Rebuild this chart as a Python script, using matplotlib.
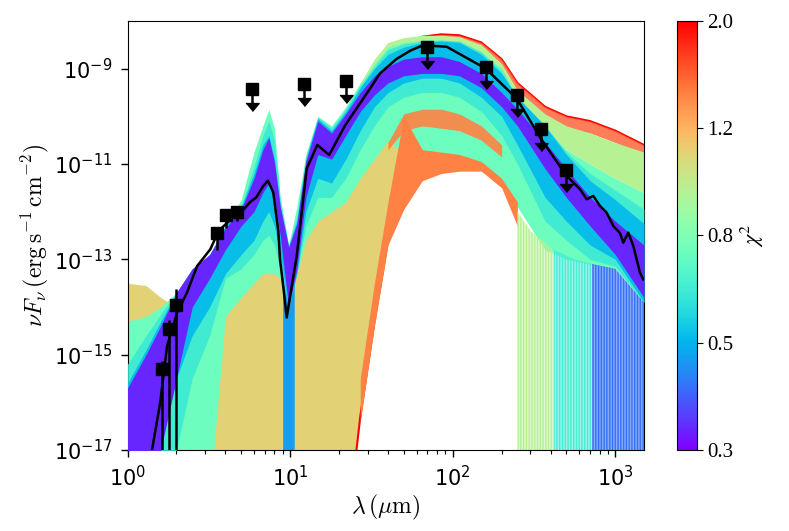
import numpy as np
import matplotlib.pyplot as plt
from matplotlib import colors

# wavelength grid (micron) for the model envelopes
lam = [1.0, 1.3, 1.6, 2.0, 2.5, 3.2, 4.0, 5.0, 6.0, 6.8, 7.4, 8.0, 8.7, 9.8,
       11.0, 12.5, 14.8, 18.0, 22.0, 27.0, 33.0, 40.0, 50.0, 65.0, 85.0,
       110.0, 150.0, 200.0, 250.0, 370.0, 500.0, 700.0, 1000.0, 1500.0]
nan = np.nan

# log10(nuFnu) envelopes of the model families
yel_chi2 = 1.12
yel_up = [-13.5, -13.55, -13.8, -14.0, -14.2, -13.5, -12.9, -12.8, -12.8, -12.8, -12.8, -12.9, -13.1, -13.3,
          -13.2, -12.5, -12.1, -11.9, -11.7, -11.2, -10.8, -10.4, -10.2, nan, nan,
          nan, nan, nan, nan, nan, nan, nan, nan, nan]
yel_lo = [-18, -18, -18, -18, -18, -18, -18, -18, -18, -18, -18, -18, -18, -18,
          -18, -18, -18, -18, -18.5, -16.4, -14.4, -12.7, -11.5, nan, nan,
          nan, nan, nan, nan, nan, nan, nan, nan, nan]

cyan_chi2 = 0.72
cyan_up = [-14.3, -14.2, -14.0, -13.7, -13.2, -12.9, -12.3, -11.75, -10.75, -10.2, -9.85, -10.25, -11.7, -12.7,
           -11.9, -10.8, -10.0, -10.2, -9.8, -9.3, -8.85, -8.5, -8.4, -8.35, -8.35,
           -8.4, -8.6, -9.0, -9.6, -10.25, -10.7, -11.0, -11.3, -11.6]
cyan_lo = [-18, -18, -18, -18, -18, -18, -14.2, -13.8, -13.5, -13.3, -13.3, -13.3, -13.4, -14.0,
           -13.3, -12.6, -12.2, -12.0, -11.8, -11.3, -10.9, -10.5, -10.8, -10.8, -10.8,
           -10.8, -11.0, -11.35, -11.9, -12.8, -13.0, -13.1, -13.2, -13.9]

sky_chi2 = 0.6
sky_up = [-15.2, -14.6, -14.15, -13.7, -13.2, -12.9, -12.3, -11.9, -11.05, -10.4, -10.1, -10.5, -11.75, -12.72,
          -12.1, -10.85, -10.02, -10.25, -9.85, -9.35, -8.95, -8.6, -8.48, -8.42, -8.4,
          -8.42, -8.65, -9.05, -9.6, -10.2, -10.75, -11.2, -11.55, -11.95]
sky_lo = [-18, -18, -18, -17.0, -15.5, -14.6, -13.4, -13.2, -12.9, -12.6, -12.5, -12.7, -13.2, -14.0,
          -13.3, -12.3, -11.7, -11.7, -11.3, -10.7, -10.2, -9.8, -9.6, -9.5, -9.5,
          -9.6, -9.9, -10.4, -11.0, -12.2, -12.6, -13.0, -13.15, -13.9]

top_chi2 = 0.95
top_up = [nan, nan, nan, nan, nan, nan, nan, nan, nan, nan, nan, nan, nan, nan,
          nan, nan, nan, nan, nan, -9.3, -8.8, -8.45, -8.35, -8.3, -8.3,
          -8.33, -8.5, -8.9, -9.45, -9.95, -10.2, -10.35, -10.55, -10.75]
top_lo = [nan, nan, nan, nan, nan, nan, nan, nan, nan, nan, nan, nan, nan, nan,
          nan, nan, nan, nan, nan, -9.35, -8.9, -8.55, -8.45, -8.4, -8.4,
          -8.45, -8.65, -9.0, -9.6, -10.25, -10.7, -11.0, -11.3, -11.6]

blue_chi2 = 0.5
blue_up = [-15.6, -14.9, -14.3, -13.7, -13.2, -12.9, -12.3, -11.9, -11.2, -10.6, -10.4, -10.9, -11.9, -12.72,
           -12.2, -10.9, -10.05, -10.3, -9.9, -9.4, -9.0, -8.7, -8.55, -8.45, -8.42,
           -8.45, -8.7, -9.1, -9.6, -10.2, -10.8, -11.35, -11.75, -12.25]
blue_lo = [-18, -18, -17.0, -15.5, -14.6, -14.0, -13.3, -12.9, -12.6, -12.2, -12.0, -12.3, -12.9, -14.0,
           -13.3, -12.0, -11.3, -11.4, -10.9, -10.3, -9.8, -9.5, -9.3, -9.2, -9.2,
           -9.3, -9.6, -10.0, -10.6, -11.7, -12.2, -12.7, -13.0, -13.9]

purp_chi2 = 0.33
purp_up = [-15.7, -15.0, -14.4, -13.7, -13.2, -12.9, -12.35, -11.95, -11.3, -10.7, -10.45, -10.95, -11.9, -12.75,
           -12.25, -10.95, -10.1, -10.35, -9.95, -9.5, -9.15, -8.95, -8.8, -8.75, -8.75,
           -8.85, -9.1, -9.5, -9.85, -10.55, -11.1, -11.7, -12.2, -12.7]
purp_lo = [-18, -18, -17.0, -15.5, -14.0, -13.4, -12.8, -12.3, -12.0, -11.6, -11.4, -11.7, -12.5, -14.0,
           -13.2, -11.7, -10.8, -10.9, -10.4, -9.9, -9.55, -9.3, -9.15, -9.1, -9.1,
           -9.15, -9.4, -9.8, -10.2, -11.1, -11.7, -12.3, -12.9, -13.8]

# cold (high chi2) families
org_chi2 = 1.45
org_lam = [27.0, 33.0, 40.0, 50.0, 65.0, 85.0, 110.0, 150.0, 200.0, 250.0]
org_up = [-15.5, -13.5, -11.8, -10.0, -10.7, -10.75, -10.8, -10.95, -11.3, -11.8]
org_lo = [-16.4, -14.4, -12.7, -11.95, -11.35, -11.2, -11.15, -11.15, -11.5, -12.3]
streak_lam = [40.0, 50.0, 65.0, 85.0, 110.0, 150.0, 200.0]
streak_up = [-10.55, -9.95, -9.85, -9.85, -9.95, -10.2, -10.6]
streak_lo = [-10.7, -10.3, -10.2, -10.25, -10.3, -10.5, -10.85]

red_chi2 = 2.0
red_rise_lam = [22.0, 27.0, 33.0, 40.0]
red_rise = [-19.0, -16.3, -14.3, -12.6]
red_top_lam = [65.0, 85.0, 110.0, 150.0, 200.0, 250.0, 370.0, 500.0, 700.0, 1000.0, 1500.0]
red_top = [-8.33, -8.28, -8.3, -8.45, -8.8, -9.3, -9.8, -10.0, -10.1, -10.3, -10.6]

# silicate dips that drop to zero
sil_chi2 = 0.45
sil_lam = [9.0, 9.8, 10.6]
sil_up = [-12.5, -12.75, -12.5]

# noisy long-wavelength models that drop to zero
stripe_g_lam = [250.0, 300.0, 420.0]
stripe_g_up = [-12.0, -12.4, -12.8]
stripe_c_lam = [420.0, 560.0, 720.0]
stripe_c_up = [-12.8, -13.0, -13.1]
stripe_b_lam = [720.0, 1000.0, 1500.0]
stripe_b_up = [-13.1, -13.2, -13.9]

# best-fit model
best_lam = [1.415, 1.59, 1.75, 2.02, 2.32, 2.68, 3.23, 3.64, 4.2, 4.71, 5.2, 5.67, 6.2, 6.84, 7.31,
            7.88, 8.46, 8.67, 9.1, 9.53, 10.2, 10.98, 11.8, 12.65, 14.7, 17.4, 21.8, 31.0,
            35.7, 45.0, 55.0, 65.6, 91.8, 160.0, 248.0, 349.0, 502.0, 607.0, 667.0, 732.0,
            805.0, 885.0, 972.0, 1069.0, 1120.0, 1202.0, 1291.0, 1354.0, 1419.0, 1486.0]
best_logf = [-17.0, -16.0, -14.82, -14.12, -13.7, -13.14, -12.79, -12.4, -12.2, -12.0, -11.95, -11.8,
             -11.7, -11.46, -11.35, -11.6, -12.4, -13.0, -13.6, -14.22, -13.6, -12.93, -12.0,
             -11.1, -10.6, -10.81, -10.19, -9.42, -9.1, -8.8, -8.62, -8.51, -8.54, -9.0, -9.63,
             -10.47, -11.25, -11.53, -11.74, -11.67, -11.88, -12.02, -12.3, -12.45, -12.65,
             -12.44, -12.72, -13.0, -13.28, -13.42]

# photometry
det_lam = [1.63, 1.81, 2.0, 3.53, 4.03, 4.69]
det_logf = [-15.29, -14.47, -13.96, -12.44, -12.07, -12.0]
det_err_up = [0.15, 0.2, 0.33, 0.1, 0.1, 0.1]
det_err_lo = [9.0, 9.0, 9.0, 0.36, 0.28, 0.2]
ul_lam = [5.8, 12.1, 22.0, 70.0, 160.0, 250.0, 350.0, 500.0]
ul_logf = [-9.42, -9.33, -9.25, -8.54, -8.96, -9.56, -10.26, -11.13]

cb_ticklabels = ['0.3', '0.5', '0.8', '1.2', '2.0']

cmap = plt.get_cmap('rainbow')
norm = colors.LogNorm(vmin=0.3, vmax=2.0)
plt.rcParams['hatch.linewidth'] = 1.0


def p10(v):
    return np.power(10.0, np.array(v, dtype=float))


fig = plt.figure(figsize=(7.89, 5.31), dpi=100)
ax = fig.add_axes([0.1616, 0.1525, 0.6545, 0.808])
cax = fig.add_axes([0.858, 0.1525, 0.025, 0.808])


def band(x, up, lo, chi2, alpha=1.0, z=1):
    ax.fill_between(x, p10(lo), p10(up), color=cmap(norm(chi2)), lw=0, alpha=alpha, zorder=z)


def stripes(x, up, chi2, a=0.45, z=1):
    c = cmap(norm(chi2))
    ax.fill_between(x, 1e-18, p10(up), facecolor=(c[0], c[1], c[2], a),
                    edgecolor=c, hatch='||||||', lw=0, zorder=z)


band(lam, yel_up, yel_lo, yel_chi2, z=1)
ax.plot(red_rise_lam, p10(red_rise), color=cmap(norm(red_chi2)), lw=1.5, zorder=1.5)
ax.plot(red_top_lam, p10(red_top), color=cmap(norm(red_chi2)), lw=1.5, zorder=1.5)
band(red_top_lam, red_top, [v - 0.25 for v in red_top], 1.6, alpha=0.8, z=1.6)
band(lam, cyan_up, cyan_lo, cyan_chi2, z=2)
band(lam, top_up, top_lo, top_chi2, z=2.1)
band(org_lam, org_up, org_lo, org_chi2, z=2.2)
band(streak_lam, streak_up, streak_lo, org_chi2, alpha=0.9, z=2.3)
stripes(stripe_g_lam, stripe_g_up, 0.95, z=2.4)
stripes(stripe_c_lam, stripe_c_up, 0.62, a=0.5, z=2.4)
stripes(stripe_b_lam, stripe_b_up, 0.4, a=0.6, z=2.4)
band(sil_lam, sil_up, [-18, -18, -18], sil_chi2, z=2.5)
band(lam, sky_up, sky_lo, sky_chi2, alpha=0.85, z=2.7)
band(lam, blue_up, blue_lo, blue_chi2, z=3)
band(lam, purp_up, purp_lo, purp_chi2, z=3.1)

ax.plot(best_lam, p10(best_logf), color='k', lw=1.8, zorder=5)

det_f = p10(det_logf)
yerr = [det_f - p10(np.array(det_logf) - np.array(det_err_lo)),
        p10(np.array(det_logf) + np.array(det_err_up)) - det_f]
ax.errorbar(det_lam, det_f, yerr=yerr, fmt='s', color='k', ms=9, elinewidth=1.8,
            capsize=0, zorder=6)

ul_f = p10(ul_logf)
ax.vlines(ul_lam, ul_f * 10 ** -0.3, ul_f, color='k', lw=1.8, zorder=6)
ax.plot(ul_lam, ul_f, 's', color='k', ms=9, zorder=6)
ax.plot(ul_lam, ul_f * 10 ** -0.38, color='k', ls='none', zorder=6, ms=9.5,
        marker=[(-1, 0.6), (1, 0.6), (0, -0.6)])

ax.set_xscale('log')
ax.set_yscale('log')
ax.set_xlim(1, 1500)
ax.set_ylim(1e-17, 1e-8)
ax.set_yticks([1e-17, 1e-15, 1e-13, 1e-11, 1e-9])
ax.yaxis.set_minor_locator(plt.NullLocator())
ax.tick_params(labelsize=15, length=5, width=1, pad=6)
ax.tick_params(which='minor', length=3, width=0.8)
ax.set_xlabel(r'$\lambda\,(\mu\mathrm{m})$', fontsize=17, math_fontfamily='cm', labelpad=2)
ax.set_ylabel(r'$\nu F_\nu\,(\mathrm{erg\,s^{-1}\,cm^{-2}})$', fontsize=17, math_fontfamily='cm',
              labelpad=2)

sm = plt.cm.ScalarMappable(norm=norm, cmap=cmap)
cb = fig.colorbar(sm, cax=cax)
cb.set_ticks(np.geomspace(0.3, 2.0, 5))
cb.set_ticklabels(cb_ticklabels)
cb.ax.minorticks_off()
cb.ax.tick_params(labelsize=15, length=4)
for t in cb.ax.get_yticklabels():
    t.set_family('Liberation Serif')
cb.set_label(r'$\chi^2$', fontsize=16, math_fontfamily='stix')

fig.savefig('out.png', dpi=100)
